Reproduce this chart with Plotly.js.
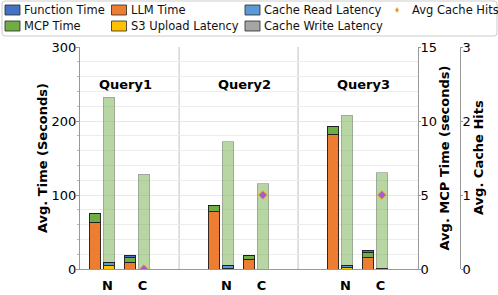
<!DOCTYPE html>
<html>
<head>
<meta charset="utf-8">
<script src="https://cdn.plot.ly/plotly-3.0.1.min.js"></script>
<style>html,body{margin:0;padding:0;background:#fff;}#chart{width:498px;height:295px;}</style>
</head>
<body>
<div id="chart"></div>
<script>
// ---- data ----
const queries = ['Query1', 'Query2', 'Query3'];
const configs = ['N', 'C'];
const functionTime = [0, 3.5, 0, 0, 0, 3.5];
const llmTime = [63, 9, 77.5, 13, 182, 15.5];
const mcpTime = [11.6, 6.4, 8.6, 5.75, 10.4, 6.5];
const s3Upload = [4.5, 0, 0.5, 0, 1.5, 0];
const cacheRead = [4.5, 0, 4.5, 0, 3, 0];
const cacheWrite = [0, 0, 0, 0, 0, 0.8];
const cacheHits = [null, 0, null, 1, null, 1];

// ---- layout helpers ----
const W = 498, H = 295, L = 80, R = 38, T = 47, B = 26;
const pw = W - L - R, ph = H - T - B;
const pxX = v => (v - L) / pw;
const pxY = v => (H - B - v) / ph;
const FONT = 'DejaVu Sans, sans-serif';

const colors = {
  func: '#4472C4', llm: '#ED7D31', mcp: '#70AD47', s3: '#FFC000',
  cread: '#5B9BD5', cwrite: '#A5A5A5'
};
const edge = {color: 'rgba(30,30,30,0.9)', width: 1};

const groupGap = 3.4, barW = 0.33, leftOff = -0.36, rightOff = 0.04;
const pos = [], tickText = [];
queries.forEach((q, qi) => configs.forEach((c, ci) => { pos.push(qi * groupGap + ci); tickText.push(c); }));
const xl = pos.map(p => p + leftOff);
const xr = pos.map(p => p + rightOff);

function bar(name, x, y, color, yaxis) {
  return {type: 'bar', name, x, y, width: barW, yaxis, showlegend: false,
    marker: {color, line: edge}, hoverinfo: 'name+y'};
}

const traces = [
  bar('LLM Time', xl, llmTime, colors.llm, 'y'),
  bar('MCP Time', xl, mcpTime, colors.mcp, 'y'),
  bar('Function Time', xl, functionTime, colors.func, 'y'),
  {type: 'bar', name: 'Avg MCP Time', x: xr, y: mcpTime, width: barW, yaxis: 'y2', showlegend: false,
    marker: {color: 'rgba(112,173,71,0.5)', line: {color: 'rgba(140,140,140,0.6)', width: 1}}},
  bar('S3 Upload Latency', xr, s3Upload, colors.s3, 'y3'),
  bar('Cache Read Latency', xr, cacheRead, colors.cread, 'y3'),
  bar('Cache Write Latency', xr, cacheWrite, colors.cwrite, 'y3'),
  {type: 'scatter', mode: 'markers', name: 'Avg Cache Hits', x: xr, y: cacheHits, yaxis: 'y4', showlegend: false,
    marker: {symbol: 'diamond', size: 7, color: '#A35CC8', line: {color: '#FFC000', width: 1}}}
];

// ---- custom legend (matplotlib-like) ----
const legendItems = [
  {name: 'Function Time', color: colors.func, col: 0, row: 0},
  {name: 'MCP Time', color: colors.mcp, col: 0, row: 1},
  {name: 'LLM Time', color: colors.llm, col: 1, row: 0},
  {name: 'S3 Upload Latency', color: colors.s3, col: 1, row: 1},
  {name: 'Cache Read Latency', color: colors.cread, col: 2, row: 0},
  {name: 'Cache Write Latency', color: colors.cwrite, col: 2, row: 1},
  {name: 'Avg Cache Hits', marker: true, col: 3, row: 0}
];
const colX = [5, 111.5, 245, 393];
const rowY = [10, 26];
const shapes = [];
const annotations = [];
// legend frame
(function () {
  const x0 = 2, x1 = 497, y0 = 1, y1 = 36, r = 3;
  const X = pxX, Y = pxY;
  shapes.push({type: 'path', xref: 'paper', yref: 'paper', layer: 'above',
    path: `M${X(x0 + r)},${Y(y0)} L${X(x1 - r)},${Y(y0)} Q${X(x1)},${Y(y0)} ${X(x1)},${Y(y0 + r)} L${X(x1)},${Y(y1 - r)} Q${X(x1)},${Y(y1)} ${X(x1 - r)},${Y(y1)} L${X(x0 + r)},${Y(y1)} Q${X(x0)},${Y(y1)} ${X(x0)},${Y(y1 - r)} L${X(x0)},${Y(y0 + r)} Q${X(x0)},${Y(y0)} ${X(x0 + r)},${Y(y0)} Z`,
    line: {color: '#cccccc', width: 1}, fillcolor: 'rgba(255,255,255,0.8)'});
})();
legendItems.forEach(it => {
  const sx = colX[it.col], cy = rowY[it.row];
  if (it.marker) {
    const cx = sx + 4, s = 2.5;
    shapes.push({type: 'path', xref: 'paper', yref: 'paper', layer: 'above',
      path: `M${pxX(cx)},${pxY(cy - s)} L${pxX(cx + s * 0.7)},${pxY(cy)} L${pxX(cx)},${pxY(cy + s)} L${pxX(cx - s * 0.7)},${pxY(cy)} Z`,
      fillcolor: '#E08A5A', line: {color: '#FFC000', width: 0.5}});
  } else {
    shapes.push({type: 'rect', xref: 'paper', yref: 'paper', layer: 'above',
      x0: pxX(sx), x1: pxX(sx + 15), y0: pxY(cy + 5), y1: pxY(cy - 5),
      fillcolor: it.color, line: {color: 'rgba(40,40,40,0.8)', width: 1}});
  }
  annotations.push({xref: 'paper', yref: 'paper', x: pxX(sx + 17), y: pxY(cy), xanchor: 'left', yanchor: 'middle',
    text: it.name, showarrow: false, font: {family: FONT, size: 11.5, color: '#111'}});
});

// panel separators and query titles
for (let qi = 0; qi < queries.length - 1; qi++) {
  const sep = pos[qi * 2 + 1] + 1.045;
  shapes.push({type: 'line', xref: 'x', yref: 'paper', x0: sep, x1: sep, y0: 0, y1: 1,
    line: {color: '#c0c0c0', width: 1}, layer: 'below'});
}
queries.forEach((q, qi) => {
  annotations.push({xref: 'x', yref: 'paper', x: (pos[qi * 2] + pos[qi * 2 + 1]) / 2, y: pxY(84),
    text: '<b>' + q + '</b>', showarrow: false, yanchor: 'middle', font: {family: FONT, size: 13, color: '#000'}});
});
// title of the free-positioned cache-hits axis
annotations.push({xref: 'paper', yref: 'paper', x: pxX(478), y: 0.5, textangle: -90, showarrow: false,
  xanchor: 'center', yanchor: 'middle', text: '<b>Avg. Cache Hits</b>', font: {family: FONT, size: 13, color: '#000'}});

const xEnd = (418 - L) / pw;
const pxPerUnit = 35;
const layout = {
  width: W, height: H,
  margin: {l: L, r: R, t: T, b: B, pad: 0},
  paper_bgcolor: '#fff', plot_bgcolor: '#fff',
  barmode: 'stack', bargap: 0,
  font: {family: FONT, size: 13, color: '#000'},
  showlegend: false,
  xaxis: {domain: [0, xEnd], range: [(L - 107.5) / pxPerUnit, (418 - 107.5) / pxPerUnit],
    tickvals: pos, ticktext: tickText.map(t => '<b>' + t + '</b>'), ticks: '', ticklabelstandoff: 4,
    showgrid: false, zeroline: false, showline: true, linecolor: '#999', linewidth: 1,
    tickfont: {family: FONT, size: 13}, fixedrange: true},
  yaxis: {range: [0, 300], tickvals: [0, 100, 200, 300], ticks: 'outside', ticklen: 3, tickcolor: '#999',
    ticklabelstandoff: -3,
    showline: true, linecolor: '#999', linewidth: 1, zeroline: false,
    showgrid: true, gridcolor: '#e8e8e8',
    minor: {dtick: 20, ticks: 'outside', ticklen: 2, tickcolor: '#bbb', showgrid: true, gridcolor: '#ececec'},
    title: {text: '<b>Avg. Time (Seconds)</b>', font: {family: FONT, size: 13}, standoff: 1},
    tickfont: {family: FONT, size: 13}, automargin: false},
  yaxis2: {overlaying: 'y', side: 'right', anchor: 'x', range: [0, 15], tickvals: [0, 5, 10, 15],
    ticks: 'outside', ticklen: 2, tickcolor: '#999', ticklabelstandoff: -3,
    showline: true, linecolor: '#999', linewidth: 1,
    showgrid: false, zeroline: false,
    title: {text: '<b>Avg. MCP Time (seconds)</b>', font: {family: FONT, size: 13}, standoff: 0},
    tickfont: {family: FONT, size: 13}, automargin: false},
  yaxis3: {overlaying: 'y', range: [0, 300], visible: false},
  yaxis4: {overlaying: 'y', side: 'right', anchor: 'free', position: 1, range: [0, 3], tickvals: [0, 1, 2, 3],
    ticks: 'outside', ticklen: 2, tickcolor: '#999', ticklabelstandoff: -3,
    showline: true, linecolor: '#999', linewidth: 1,
    showgrid: false, zeroline: false,
    tickfont: {family: FONT, size: 13}, automargin: false},
  shapes, annotations
};

Plotly.newPlot('chart', traces, layout, {displayModeBar: false, staticPlot: true});
</script>
</body>
</html>
